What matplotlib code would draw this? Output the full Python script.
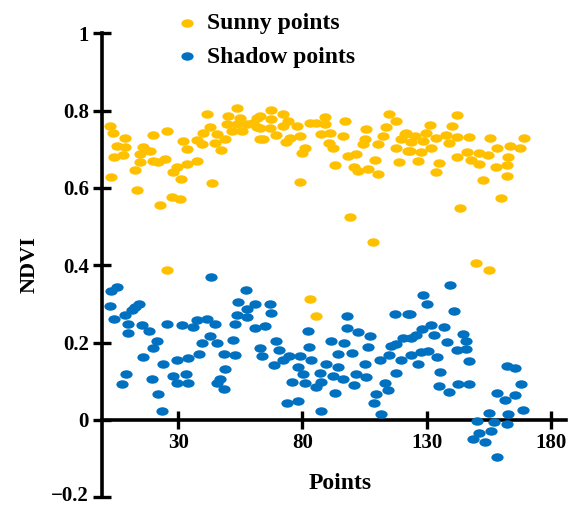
import matplotlib
matplotlib.use("Agg")
import matplotlib.pyplot as plt
from matplotlib.path import Path
from matplotlib.transforms import ScaledTranslation
import numpy as np

sunny_x = [2.4, 4.0, 4.3, 5.4, 3.1, 8.7, 8.7, 8.0, 13.4, 12.7, 14.7, 15.8, 18.8, 20.0, 14.7, 20.0, 22.0,
           24.8, 22.8, 25.7, 27.5, 30.8, 29.5, 28.1, 31.2, 32.1, 33.7, 33.5, 37.5, 37.5, 39.5, 40.2, 41.5,
           43.5, 42.9, 45.5, 44.9, 47.2, 48.9, 50.2, 49.6, 53.6, 54.9, 51.6, 55.6, 53.6, 57.6, 61.6, 61.6,
           63.0, 67.2, 62.9, 67.6, 72.3, 60.2, 62.9, 66.9, 72.3, 74.3, 77.7, 69.6, 64.3, 75.0, 79.0, 73.4,
           81.0, 79.7, 79.0, 83.0, 85.7, 89.0, 89.0, 87.7, 91.0, 90.6, 92.4, 93.0, 97.0, 96.4, 98.4, 101.8,
           99.0, 101.0, 102.3, 106.4, 105.8, 105.1, 104.4, 109.1, 110.4, 110.4, 112.4, 113.8, 114.9, 117.6,
           117.8, 118.9, 121.2, 119.8, 122.5, 108.3, 142.2, 131.2, 140.2, 121.8, 125.2, 129.6, 133.9, 137.9,
           142.2, 147.0, 123.9, 128.5, 139.0, 131.9, 123.2, 127.9, 126.5, 135.2, 133.9, 142.2, 146.3, 147.9,
           151.0, 151.3, 154.6, 155.6, 158.4, 158.0, 162.7, 162.2, 163.7, 167.6, 169.4, 152.9, 162.4, 160.0,
           143.5, 150.0, 155.0, 83.0, 85.4, 25.6]
sunny_y = [0.760, 0.743, 0.679, 0.709, 0.629, 0.728, 0.707, 0.685, 0.595, 0.647, 0.687, 0.706, 0.696, 0.736,
           0.666, 0.670, 0.666, 0.674, 0.557, 0.747, 0.576, 0.571, 0.655, 0.640, 0.624, 0.722, 0.700, 0.662,
           0.670, 0.723, 0.713, 0.743, 0.792, 0.614, 0.758, 0.739, 0.717, 0.698, 0.726, 0.786, 0.765, 0.806,
           0.782, 0.747, 0.747, 0.765, 0.765, 0.782, 0.758, 0.726, 0.801, 0.786, 0.778, 0.790, 0.769, 0.756,
           0.756, 0.760, 0.773, 0.760, 0.736, 0.726, 0.730, 0.734, 0.719, 0.704, 0.691, 0.616, 0.767, 0.767,
           0.784, 0.765, 0.740, 0.743, 0.717, 0.704, 0.660, 0.773, 0.734, 0.683, 0.689, 0.526, 0.655, 0.644,
           0.649, 0.752, 0.726, 0.713, 0.672, 0.637, 0.713, 0.734, 0.758, 0.790, 0.773, 0.704, 0.668, 0.739,
           0.726, 0.696, 0.461, 0.788, 0.762, 0.759, 0.741, 0.734, 0.741, 0.730, 0.736, 0.732, 0.733, 0.719,
           0.722, 0.715, 0.703, 0.696, 0.694, 0.670, 0.664, 0.642, 0.681, 0.694, 0.672, 0.663, 0.690, 0.686,
           0.729, 0.704, 0.655, 0.681, 0.660, 0.709, 0.703, 0.729, 0.620, 0.630, 0.573, 0.547, 0.407, 0.387,
           0.314, 0.270, 0.387]

shadow_x = [3.0, 5.4, 2.7, 4.3, 8.7, 10.0, 10.0, 11.4, 14.1, 12.7, 15.4, 18.1, 21.4, 20.0, 15.8, 9.1, 7.4,
            24.1, 19.7, 21.8, 23.4, 25.7, 29.7, 31.5, 34.1, 28.1, 29.7, 33.2, 34.1, 36.1, 37.5, 41.5, 44.9,
            38.6, 39.5, 42.9, 45.5, 43.3, 45.5, 47.0, 48.6, 48.9, 48.6, 52.2, 52.9, 52.9, 53.6, 54.2, 57.2,
            57.6, 57.6, 60.9, 66.9, 67.2, 60.9, 64.9, 62.9, 63.6, 69.4, 70.7, 68.7, 72.3, 74.7, 79.0, 78.3,
            75.7, 81.0, 73.7, 78.3, 82.3, 82.7, 83.7, 80.3, 87.0, 89.4, 87.7, 85.7, 87.7, 91.4, 94.4, 94.4,
            92.4, 93.0, 96.4, 96.7, 98.0, 98.0, 100.2, 102.4, 101.5, 105.5, 105.1, 100.8, 106.4, 107.1, 111.1,
            109.8, 108.7, 111.8, 113.1, 114.5, 114.9, 115.8, 117.8, 117.2, 119.8, 117.8, 120.5, 122.5, 123.5,
            128.5, 130.1, 139.5, 141.2, 123.9, 125.9, 128.3, 131.9, 133.2, 137.2, 138.3, 144.6, 145.9, 145.9,
            142.2, 123.9, 126.5, 127.9, 130.5, 134.1, 135.5, 147.0, 134.9, 139.2, 142.6, 147.0, 150.2, 148.9,
            151.3, 153.7, 155.0, 157.3, 156.0, 158.2, 158.2, 161.7, 162.7, 162.2, 162.2, 165.8, 165.8, 168.0,
            168.7]
shadow_y = [0.333, 0.344, 0.294, 0.260, 0.271, 0.247, 0.226, 0.285, 0.301, 0.292, 0.245, 0.230, 0.204, 0.186,
            0.163, 0.118, 0.093, 0.144, 0.107, 0.067, 0.024, 0.249, 0.156, 0.245, 0.161, 0.113, 0.096, 0.118,
            0.095, 0.240, 0.258, 0.262, 0.249, 0.170, 0.199, 0.216, 0.198, 0.369, 0.096, 0.107, 0.079, 0.133,
            0.170, 0.206, 0.168, 0.247, 0.271, 0.305, 0.335, 0.288, 0.266, 0.301, 0.299, 0.277, 0.239, 0.243,
            0.187, 0.165, 0.204, 0.182, 0.142, 0.156, 0.165, 0.165, 0.137, 0.099, 0.095, 0.043, 0.050, 0.230,
            0.189, 0.155, 0.119, 0.122, 0.146, 0.099, 0.086, 0.024, 0.204, 0.170, 0.137, 0.113, 0.070, 0.107,
            0.199, 0.268, 0.238, 0.173, 0.228, 0.119, 0.112, 0.146, 0.090, 0.189, 0.216, 0.155, 0.067, 0.043,
            0.015, 0.095, 0.077, 0.168, 0.191, 0.122, 0.275, 0.155, 0.196, 0.211, 0.275, 0.273, 0.324, 0.301,
            0.350, 0.282, 0.213, 0.219, 0.234, 0.245, 0.219, 0.240, 0.202, 0.223, 0.204, 0.183, 0.180, 0.168,
            0.146, 0.176, 0.179, 0.163, 0.124, 0.152, 0.088, 0.073, 0.092, 0.092, -0.002, -0.050, -0.034,
            -0.058, 0.017, -0.004, -0.028, -0.097, 0.069, 0.052, 0.015, -0.010, 0.139, 0.135, 0.064, 0.093,
            0.026]

x_ticks = [30, 80, 130, 180]
y_ticks = [-0.2, 0, 0.2, 0.4, 0.6, 0.8, 1]
y_tick_labels = ["\u22120.2", "0", "0.2", "0.4", "0.6", "0.8", "1"]

plt.rcParams['font.family'] = ['Liberation Serif', 'DejaVu Serif']
plt.rcParams['font.weight'] = 'bold'

# elliptical marker (wider than tall)
circ = Path.unit_circle()
ellipse = Path(circ.vertices * np.array([1.45, 1.0]), circ.codes)

fig = plt.figure(figsize=(5.68, 5.09), dpi=100)
ax = fig.add_axes([0.1801, 0.0230, 0.8158, 0.9116])

ax.scatter(sunny_x, sunny_y, marker=ellipse, s=78, color='#FFC000', linewidths=0,
           label='Sunny points', zorder=3)
ax.scatter(shadow_x, shadow_y, marker=ellipse, s=78, color='#0070C0', linewidths=0,
           label='Shadow points', zorder=3)

ax.set_xlim(-0.5, 186)
ax.set_ylim(-0.2, 1.0)

for s in ['top', 'right']:
    ax.spines[s].set_visible(False)
ax.spines['bottom'].set_position(('data', 0))
ax.spines['left'].set_linewidth(2.6)
ax.spines['bottom'].set_linewidth(2.6)

ax.set_xticks(x_ticks)
ax.set_xticklabels([str(t) for t in x_ticks])
ax.set_yticks(y_ticks)
ax.set_yticklabels(y_tick_labels)
ax.tick_params(axis='both', direction='inout', length=13, width=2.4, labelsize=15, pad=3)
for lab in ax.get_xticklabels() + ax.get_yticklabels():
    lab.set_fontweight('bold')
for lab in ax.get_yticklabels():
    lab.set_va('center_baseline')
# keep the lowest label fully inside the figure
low = ax.get_yticklabels()[0]
low.set_transform(low.get_transform() + ScaledTranslation(0, 2.5 / 72, fig.dpi_scale_trans))

ax.set_xlabel('Points', fontsize=17, fontweight='bold')
ax.set_ylabel('NDVI', fontsize=16, fontweight='bold')
ax.xaxis.set_label_coords(0.513, 0.03)
ax.xaxis.label.set_va('center')
ax.yaxis.set_label_coords(-0.156, 0.502)
ax.yaxis.label.set_va('center')

leg = ax.legend(loc='upper left', bbox_to_anchor=(0.309, 0.975), bbox_transform=fig.transFigure,
                frameon=False, handlelength=1.0, handletextpad=0.35,
                labelspacing=0.5, borderpad=0, borderaxespad=0,
                prop={'weight': 'bold', 'size': 17})

fig.savefig('out.png', dpi=100)
